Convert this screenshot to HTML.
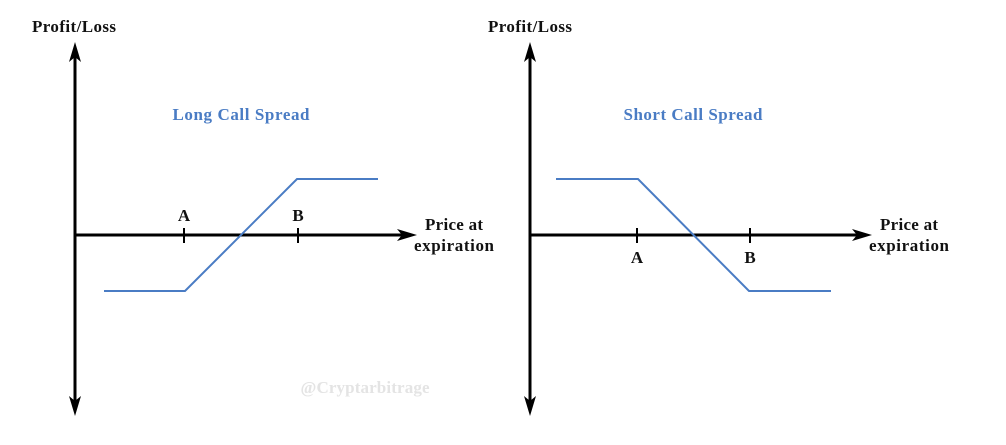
<!DOCTYPE html>
<html><head><style>body{margin:0;background:#fff}svg{display:block}</style></head><body>
<svg width="1006" height="445" viewBox="0 0 1006 445" xmlns="http://www.w3.org/2000/svg" font-family="Liberation Serif, serif" font-weight="bold">
<g stroke="#000" stroke-width="3" fill="none">
<line x1="75" y1="55" x2="75" y2="405"/>
<line x1="75" y1="235" x2="405" y2="235"/>
<line x1="530" y1="55" x2="530" y2="405"/>
<line x1="530" y1="235" x2="860" y2="235"/>
</g>
<g stroke="#000" stroke-width="2">
<line x1="184" y1="228" x2="184" y2="243"/><line x1="298" y1="228" x2="298" y2="243"/>
<line x1="637" y1="228" x2="637" y2="243"/><line x1="750" y1="228" x2="750" y2="243"/>
</g>
<g fill="#000">
<polygon points="75,42 69,62 75,57 81,62"/>
<polygon points="75,416 69,396 75,401 81,396"/>
<polygon points="417,235 397,229 402,235 397,241"/>
<polygon points="530,42 524,62 530,57 536,62"/>
<polygon points="530,416 524,396 530,401 536,396"/>
<polygon points="872,235 852,229 857,235 852,241"/>
</g>
<g stroke="#4a7cc4" stroke-width="2" fill="none">
<polyline points="104,291 185,291 297,179 378,179"/>
<polyline points="556,179 638,179 749,291 831,291"/>
</g>
<g font-size="17" fill="#111" text-anchor="middle">
<text x="74" y="32" textLength="84">Profit/Loss</text>
<text x="530" y="32" textLength="84">Profit/Loss</text>
<text x="184" y="221">A</text><text x="298" y="221">B</text>
<text x="637" y="263">A</text><text x="750" y="263">B</text>
<text x="454" y="230" textLength="58">Price at</text><text x="454" y="251" textLength="80">expiration</text>
<text x="909" y="230" textLength="58">Price at</text><text x="909" y="251" textLength="80">expiration</text>
</g>
<g font-size="17" fill="#4a7cc4" text-anchor="middle">
<text x="241" y="120" textLength="137">Long Call Spread</text>
<text x="693" y="120" textLength="139">Short Call Spread</text>
</g>
<text x="365" y="393" font-size="17" fill="#e4e4e4" text-anchor="middle" textLength="129">@Cryptarbitrage</text>
</svg>
</body></html>
